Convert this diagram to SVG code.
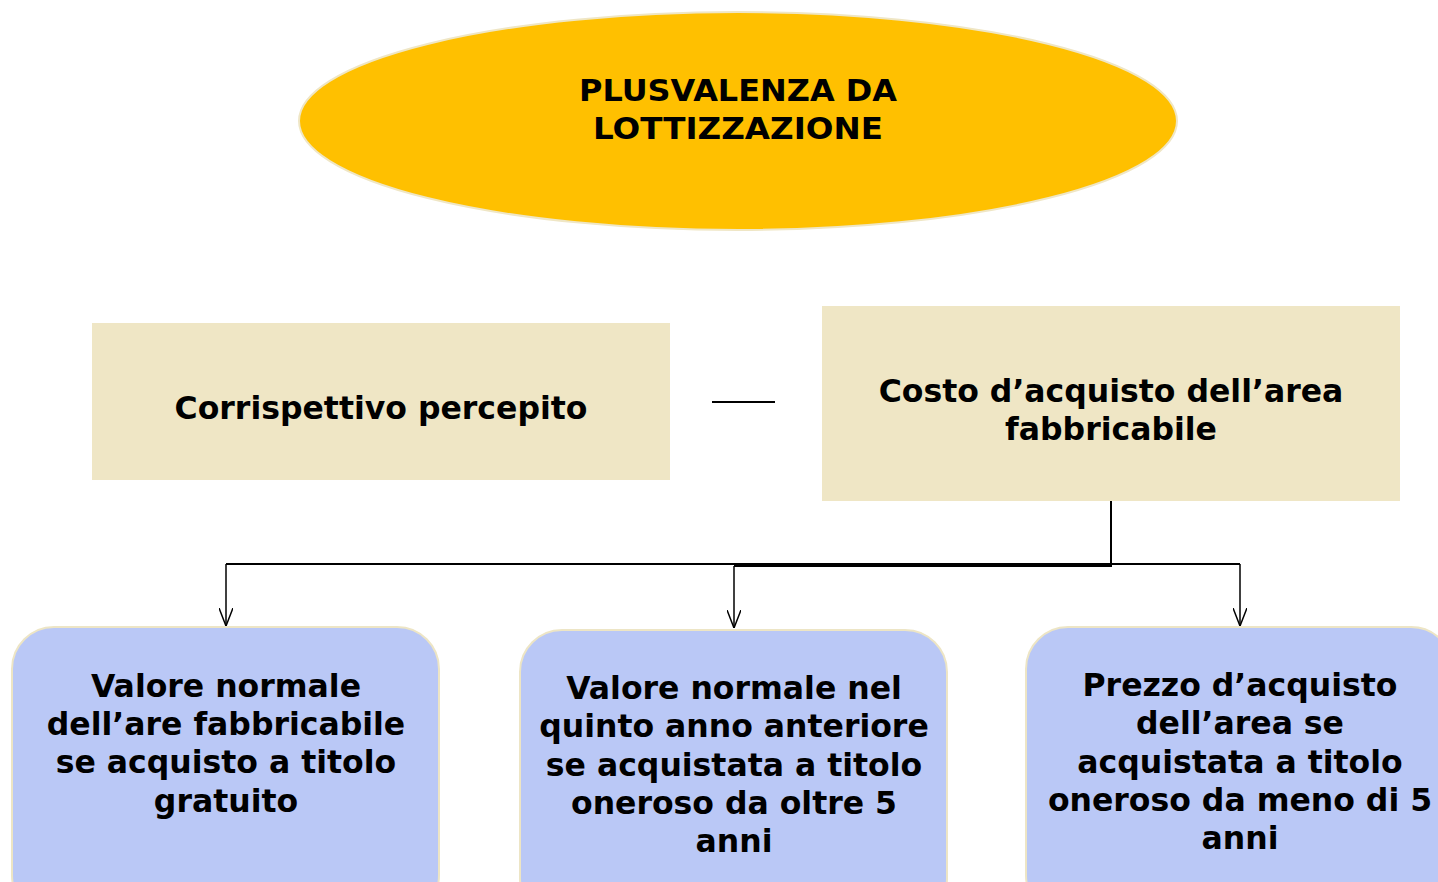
<svg xmlns="http://www.w3.org/2000/svg" width="1438" height="882" viewBox="0 0 1438 882">
<style>
.t{font-family:"DejaVu Sans","Verdana",sans-serif;font-weight:bold;fill:#000;text-anchor:middle;font-size:31.5px}
.h{font-family:"DejaVu Sans","Verdana",sans-serif;font-weight:bold;fill:#000;text-anchor:middle;font-size:31px}
.beige{fill:#EFE6C5;stroke:none}
.blue{fill:#BAC8F6;stroke:#EDE5C5;stroke-width:2}
.c{fill:none;stroke:#000;stroke-width:2}
.a{stroke:#000;stroke-width:1.5}
</style>
<defs>
<marker id="arr" viewBox="0 0 18 14" refX="18" refY="7" markerWidth="18" markerHeight="14" markerUnits="userSpaceOnUse" orient="auto">
<path d="M0,0 L18,7 L0,14" fill="none" stroke="#000" stroke-width="1.5"/>
</marker>
</defs>
<rect width="1438" height="882" fill="#fff"/>
<g id="title">
<ellipse cx="738" cy="121" rx="439" ry="109" fill="#FFC000" stroke="#EFE6C5" stroke-width="2"/>
<text class="h" x="738" y="101" textLength="318" lengthAdjust="spacingAndGlyphs">PLUSVALENZA DA</text>
<text class="h" x="738" y="139" textLength="290" lengthAdjust="spacingAndGlyphs">LOTTIZZAZIONE</text>
</g>
<g id="corrispettivo">
<rect class="beige" x="92" y="323" width="578" height="157"/>
<text class="t" x="381" y="419">Corrispettivo percepito</text>
</g>
<g id="minus">
<line x1="712" y1="402" x2="775" y2="402" stroke="#000" stroke-width="2"/>
</g>
<g id="costo">
<rect class="beige" x="822" y="306" width="578" height="195"/>
<text class="t" x="1111" y="402">Costo d’acquisto dell’area</text>
<text class="t" x="1111" y="440">fabbricabile</text>
</g>
<g id="connectors">
<path class="c" d="M1111,501 V564 H226"/>
<path class="c" d="M1111,564 V566 H734"/>
<path class="c" d="M1111,564 H1240"/>
<line class="a" x1="226" y1="564" x2="226" y2="626" marker-end="url(#arr)"/>
<line class="a" x1="734" y1="566" x2="734" y2="628" marker-end="url(#arr)"/>
<line class="a" x1="1240" y1="564" x2="1240" y2="626" marker-end="url(#arr)"/>
</g>
<g id="gratuito">
<rect class="blue" x="12" y="627" width="427" height="290" rx="42"/>
<text class="t" x="226" y="697">Valore normale</text>
<text class="t" x="226" y="735">dell’are fabbricabile</text>
<text class="t" x="226" y="773">se acquisto a titolo</text>
<text class="t" x="226" y="812">gratuito</text>
</g>
<g id="oltre5">
<rect class="blue" x="520" y="630" width="427" height="290" rx="42"/>
<text class="t" x="734" y="699">Valore normale nel</text>
<text class="t" x="734" y="737">quinto anno anteriore</text>
<text class="t" x="734" y="776">se acquistata a titolo</text>
<text class="t" x="734" y="814">oneroso da oltre 5</text>
<text class="t" x="734" y="852">anni</text>
</g>
<g id="meno5">
<rect class="blue" x="1026" y="627" width="427" height="290" rx="42"/>
<text class="t" x="1240" y="696">Prezzo d’acquisto</text>
<text class="t" x="1240" y="734">dell’area se</text>
<text class="t" x="1240" y="773">acquistata a titolo</text>
<text class="t" x="1240" y="811">oneroso da meno di 5</text>
<text class="t" x="1240" y="849">anni</text>
</g>
</svg>
